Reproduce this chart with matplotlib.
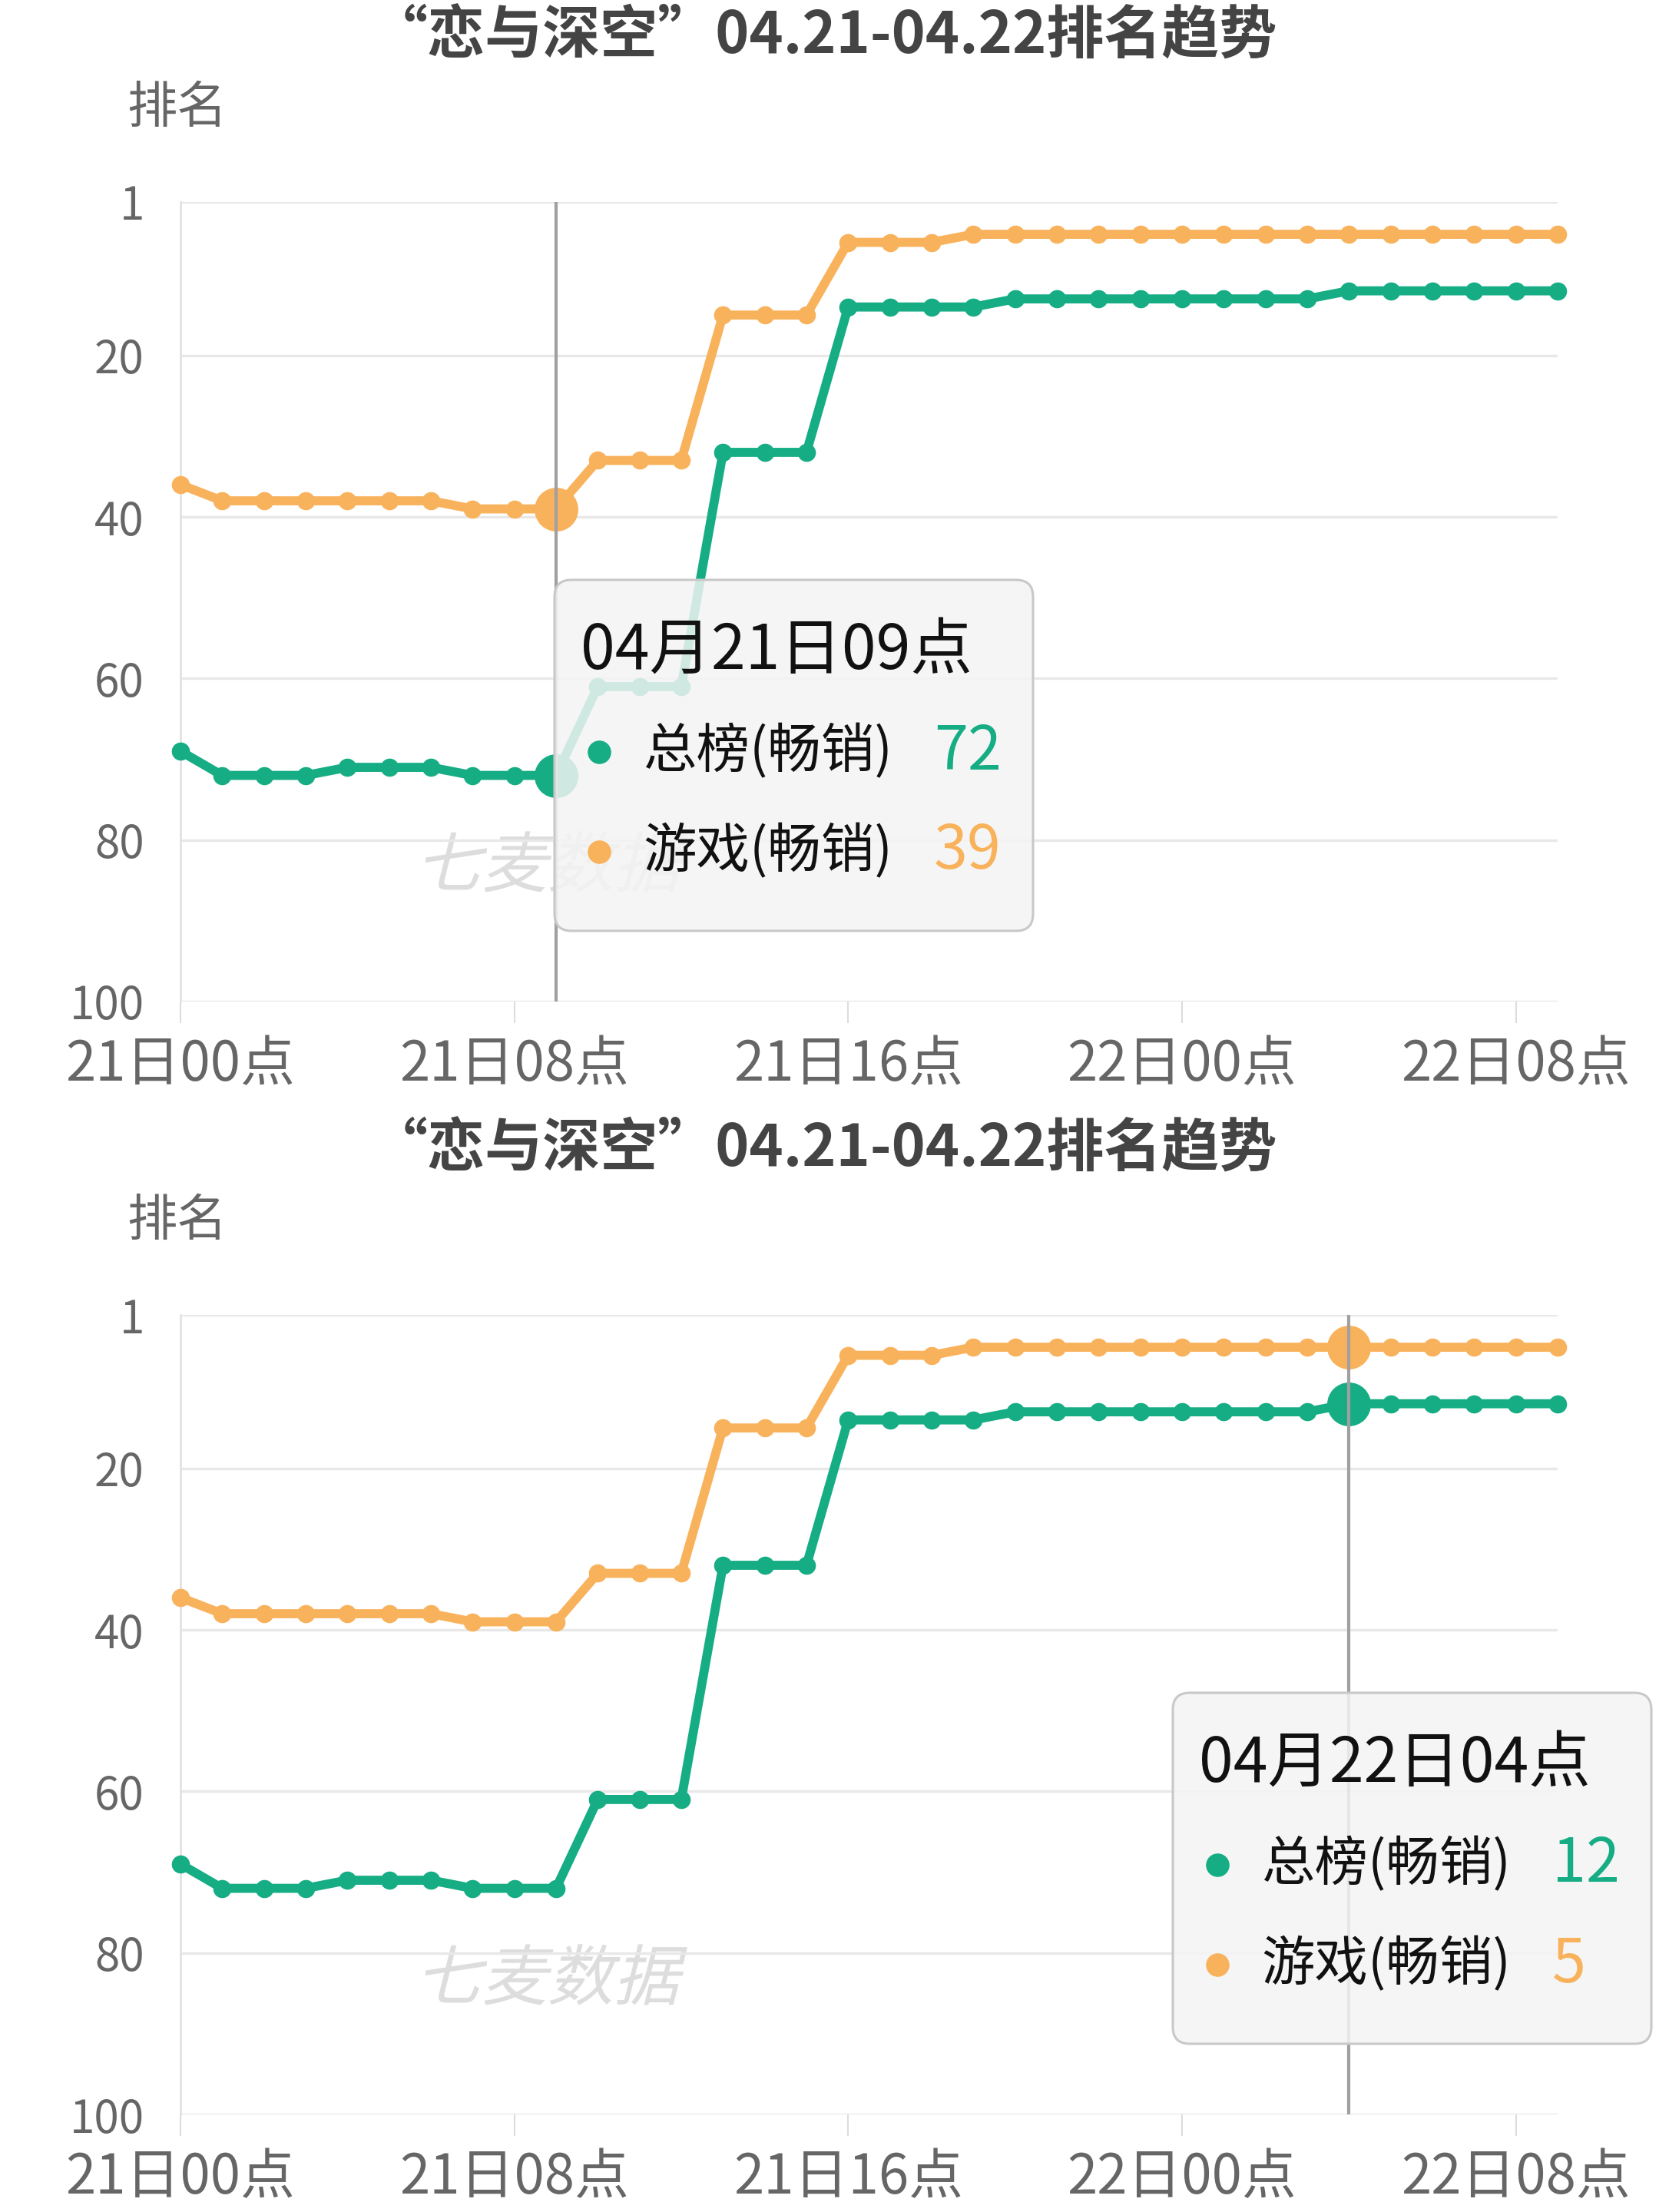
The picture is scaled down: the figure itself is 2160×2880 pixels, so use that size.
import matplotlib
matplotlib.use("Agg")
import matplotlib.pyplot as plt
from matplotlib.patches import FancyBboxPatch, PathPatch
from matplotlib.lines import Line2D
from matplotlib.textpath import TextPath
from matplotlib.font_manager import FontProperties
from matplotlib.transforms import Affine2D, IdentityTransform

plt.rcParams['font.family'] = ['Noto Sans CJK SC', 'DejaVu Sans']

# data
title = "“恋与深空”04.21-04.22排名趋势"
hours = list(range(34))
tick_hours = [0, 8, 16, 24, 32]
tick_labels = ["21日00点", "21日08点", "21日16点", "22日00点", "22日08点"]
y_ticks = [1, 20, 40, 60, 80, 100]
series_names = ["总榜(畅销)", "游戏(畅销)"]
total_rank = [69, 72, 72, 72, 71, 71, 71, 72, 72, 72,
              61, 61, 61, 32, 32, 32, 14, 14, 14, 14,
              13, 13, 13, 13, 13, 13, 13, 13, 12, 12,
              12, 12, 12, 12]
game_rank = [36, 38, 38, 38, 38, 38, 38, 39, 39, 39,
             33, 33, 33, 15, 15, 15, 6, 6, 6, 5,
             5, 5, 5, 5, 5, 5, 5, 5, 5, 5,
             5, 5, 5, 5]
hover_idx = [9, 28]

green = '#16ad85'
orange = '#f9b25c'
colors = [green, orange]

W, H = 2160, 2880
fig = plt.figure(figsize=(W / 100, H / 100), dpi=100)
ident = IdentityTransform()

plot_left, plot_w, plot_h = 235, 1793, 1041
plot_tops = [263, 1712]
box_lefts = [722, 1527]
box_w, box_h = 623, 457


def ftext(x, y, s, **kw):
    # text placed in image pixel coords (origin top-left)
    return fig.text(x, H - y, s, transform=ident, **kw)


for top, hv, bl in zip(plot_tops, hover_idx, box_lefts):
    ax = fig.add_axes([plot_left / W, (H - top - plot_h) / H, plot_w / W, plot_h / H])
    ax.set_facecolor('none')
    for vals, c in zip([total_rank, game_rank], colors):
        ax.plot(hours, vals, '-o', color=c, lw=8.5, ms=16, clip_on=False, zorder=3)
        ax.plot([hv], [vals[hv]], 'o', color=c, ms=40, clip_on=False, zorder=4)
    ax.axvline(hv, color='#a0a0a0', lw=3, zorder=5)

    ax.set_xlim(0, 33)
    ax.set_ylim(100, 1)
    ax.set_yticks(y_ticks)
    ax.set_xticks(tick_hours, tick_labels)
    ax.yaxis.grid(True, color='#e8e8e8', lw=2.4, zorder=0)
    for s in ['top', 'right', 'bottom']:
        ax.spines[s].set_visible(False)
    ax.spines['left'].set_color('#e2e2e2')
    ax.spines['left'].set_linewidth(2)
    ax.tick_params(axis='y', length=0, pad=34, labelsize=42, labelcolor='#666666')
    ax.tick_params(axis='x', length=20, width=1.5, color='#dddddd', pad=13,
                   labelsize=51, labelcolor='#666666')

    # watermark, slanted
    tp = TextPath((0, 0), "七麦数据", size=86,
                  prop=FontProperties(family='Noto Sans CJK SC', weight='light'))
    ext = tp.get_extents()
    trf = (Affine2D().translate(-(ext.x0 + ext.x1) / 2, -(ext.y0 + ext.y1) / 2)
           .skew_deg(14, 0).translate(721, H - (top + 859)))
    wm = PathPatch(tp, fc='#dddddd', ec='none', zorder=1)
    wm.set_transform(trf)
    ax.add_patch(wm)

    ftext(W / 2 - 8, top - 215, title, ha='center', va='center', fontsize=54,
          color='#444444', weight='bold')
    ftext(230, top - 121, "排名", ha='center', va='center', fontsize=47, color='#666666')

    # tooltip
    bt = top + 492
    box = FancyBboxPatch((bl, H - bt - box_h), box_w, box_h,
                         boxstyle="round,pad=0,rounding_size=22",
                         fc=(0.955, 0.955, 0.955, 0.84), ec='#c8c8c8', lw=2.2,
                         transform=ident, zorder=6)
    fig.add_artist(box)
    ftext(bl + 34, bt + 92, f"04月{21 + hv // 24}日{hv % 24:02d}点",
          ha='left', va='center', fontsize=58, color='#111111', zorder=7)
    for j, (name, vals, c) in enumerate(zip(series_names, [total_rank, game_rank], colors)):
        ry = bt + 224 + j * 130
        fig.add_artist(Line2D([bl + 58], [H - ry], marker='o', ms=21, color=c,
                              transform=ident, zorder=7))
        ftext(bl + 115, ry, name, ha='left', va='center', fontsize=50,
              color='#111111', zorder=7)
        ftext(bl + 494, ry, str(vals[hv]), ha='left', va='center', fontsize=57,
              color=c, zorder=7)

fig.savefig("out.png", dpi=100, facecolor='white')
